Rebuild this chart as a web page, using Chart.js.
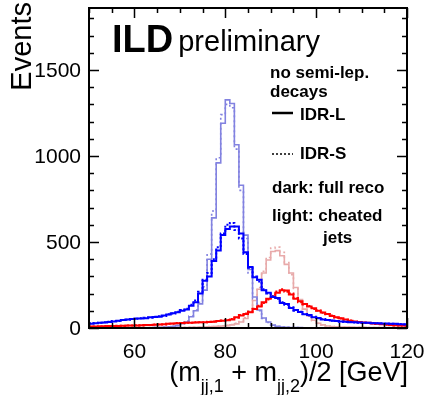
<!DOCTYPE html>
<html>
<head>
<meta charset="utf-8">
<script src="https://cdn.jsdelivr.net/npm/chart.js@4.4.1/dist/chart.umd.min.js"></script>
<style>
  html, body { margin: 0; padding: 0; background: #fff; overflow: hidden; }
  canvas { display: block; }
</style>
</head>
<body>
<canvas id="c" width="429" height="395"></canvas>
<script>
// Histogram binning: 1 GeV bins from 50 to 120 GeV
const BIN_START = 50;
const BIN_WIDTH = 1;

// Tick labels
const xTickLabels = [60, 80, 100, 120];
const yTickLabels = [0, 500, 1000, 1500];

// Legend / annotation text
const legendLines = ['no semi-lep.', 'decays'];
const styleLabels = ['IDR-L', 'IDR-S'];
const shadeLabels = ['dark: full reco', 'light: cheated', 'jets'];

// W-like peak, full reconstruction (dark blue)
const recoW_L = [
  25, 28, 30, 32, 35, 38, 42, 46, 50, 52,
  55, 55, 57, 62, 64, 66, 72, 78, 86, 92,
  100, 108, 130, 150, 200, 275, 300, 390, 450, 540,
  575, 590, 590, 550, 440, 355, 295, 280, 220, 205,
  180, 175, 145, 140, 116, 105, 93, 80, 75, 62,
  58, 50, 46, 44, 40, 38, 36, 34, 33, 32,
  30, 30, 28, 28, 26, 26, 25, 24, 22, 22
];
const recoW_S = [
  27, 29, 31, 33, 36, 40, 41, 47, 48, 53,
  54, 57, 59, 60, 66, 68, 70, 80, 84, 95,
  104, 112, 135, 160, 210, 280, 320, 400, 470, 550,
  600, 610, 570, 520, 430, 350, 300, 270, 225, 200,
  185, 170, 150, 135, 120, 100, 95, 82, 72, 65,
  56, 52, 47, 42, 41, 37, 35, 35, 32, 31,
  31, 29, 29, 27, 27, 25, 24, 23, 23, 21
];
// W-like peak, cheated jets (light blue)
const cheatW_L = [
  0, 0, 0, 0, 0, 0, 0, 0, 0, 0,
  0, 0, 1, 1, 2, 3, 4, 6, 9, 14,
  25, 35, 65, 100, 140, 220, 400, 640, 960, 1190,
  1326, 1305, 1065, 830, 540, 340, 180, 105, 58, 35,
  17, 10, 6, 4, 3, 2, 2, 1, 1, 1,
  1, 1, 1, 0, 0, 0, 0, 0, 0, 0,
  0, 0, 0, 0, 0, 0, 0, 0, 0, 0
];
const cheatW_S = [
  0, 0, 0, 0, 0, 0, 0, 0, 0, 0,
  0, 0, 1, 1, 2, 3, 5, 7, 10, 15,
  27, 40, 70, 105, 150, 240, 430, 680, 990, 1240,
  1300, 1280, 1040, 800, 520, 320, 170, 100, 55, 32,
  16, 9, 6, 4, 3, 2, 1, 1, 1, 1,
  1, 1, 0, 0, 0, 0, 0, 0, 0, 0,
  0, 0, 0, 0, 0, 0, 0, 0, 0, 0
];
// Z-like peak, full reconstruction (red)
const recoZ_L = [
  8, 9, 10, 10, 11, 12, 12, 13, 14, 15,
  15, 16, 17, 18, 19, 20, 22, 24, 26, 28,
  29, 30, 31, 32, 33, 34, 35, 37, 40, 42,
  45, 50, 62, 72, 82, 92, 110, 125, 150, 170,
  180, 205, 220, 218, 195, 170, 155, 140, 125, 115,
  100, 90, 82, 70, 62, 56, 50, 42, 38, 35,
  32, 30, 26, 24, 22, 20, 18, 16, 15, 14
];
const recoZ_S = [
  7, 8, 9, 11, 10, 11, 13, 12, 14, 14,
  16, 15, 18, 17, 20, 21, 21, 25, 25, 29,
  28, 31, 30, 33, 34, 33, 37, 38, 41, 44,
  47, 52, 60, 75, 85, 95, 112, 130, 145, 165,
  185, 212, 225, 210, 200, 175, 150, 137, 128, 110,
  102, 88, 80, 72, 60, 55, 48, 44, 37, 34,
  31, 29, 27, 23, 23, 19, 19, 15, 15, 13
];
// Z-like peak, cheated jets (pink)
const cheatZ_L = [
  2, 2, 2, 2, 2, 2, 2, 2, 2, 2,
  2, 2, 2, 3, 3, 3, 3, 3, 3, 3,
  3, 3, 4, 4, 5, 6, 7, 8, 10, 12,
  14, 18, 24, 35, 55, 95, 160, 225, 320, 395,
  445, 450, 420, 370, 320, 235, 165, 110, 70, 45,
  28, 18, 12, 9, 7, 6, 5, 5, 4, 4,
  4, 3, 3, 3, 3, 3, 2, 2, 2, 2
];
const cheatZ_S = [
  2, 2, 2, 2, 2, 2, 2, 2, 2, 2,
  2, 2, 3, 3, 3, 3, 3, 3, 3, 3,
  3, 4, 4, 5, 5, 6, 8, 9, 11, 13,
  15, 20, 27, 38, 60, 100, 165, 235, 330, 410,
  465, 470, 440, 380, 310, 230, 160, 105, 68, 42,
  27, 17, 12, 8, 7, 6, 5, 4, 4, 4,
  3, 3, 3, 3, 3, 2, 2, 2, 2, 2
];

const FONT = '"Liberation Sans", Arial, Helvetica, sans-serif';

// Turn bin contents into step points at the low bin edges, closing at the upper edge
function toSteps(values) {
  const pts = values.map((v, i) => ({ x: BIN_START + i * BIN_WIDTH, y: v }));
  pts.push({ x: BIN_START + values.length * BIN_WIDTH, y: values[values.length - 1] });
  return pts;
}

function hist(values, color, width, dash) {
  return {
    data: toSteps(values),
    borderColor: color,
    borderWidth: width,
    borderDash: dash || [],
    stepped: 'before',
    pointRadius: 0,
    fill: false,
    tension: 0
  };
}

const DARK_BLUE = '#0000ff';
const LIGHT_BLUE = '#8282e0';
const DARK_RED = '#ff0000';
const LIGHT_RED = '#e8aaaa';

// Frame, ticks, labels and annotation text, drawn ROOT style
const framePlugin = {
  id: 'rootFrame',
  afterDraw(chart) {
    const { ctx, chartArea: a, scales: { x, y } } = chart;
    ctx.save();
    ctx.strokeStyle = '#000';
    ctx.fillStyle = '#000';

    // ticks (inside the frame, on all four sides)
    ctx.lineWidth = 1.5;
    ctx.beginPath();
    for (let v = 0; v <= 1860; v += 100) {
      const py = Math.round(y.getPixelForValue(v)) + 0.5;
      const len = (v % 500 === 0) ? 10 : 5;
      ctx.moveTo(a.left, py); ctx.lineTo(a.left + len, py);
      ctx.moveTo(a.right, py); ctx.lineTo(a.right - len, py);
    }
    for (let v = 50; v <= 120; v += 5) {
      const px = Math.round(x.getPixelForValue(v)) + 0.5;
      const len = (v % 20 === 0) ? 10 : 5;
      ctx.moveTo(px, a.bottom); ctx.lineTo(px, a.bottom - len);
      ctx.moveTo(px, a.top); ctx.lineTo(px, a.top + len);
    }
    ctx.stroke();

    // frame
    ctx.lineWidth = 2;
    ctx.strokeRect(a.left, a.top, a.right - a.left, a.bottom - a.top);

    // y tick labels
    ctx.font = '21px ' + FONT;
    ctx.textAlign = 'right';
    ctx.textBaseline = 'middle';
    yTickLabels.forEach(v => ctx.fillText(String(v), 81, y.getPixelForValue(v) + 1));

    // x tick labels
    ctx.textAlign = 'center';
    ctx.textBaseline = 'alphabetic';
    xTickLabels.forEach(v => ctx.fillText(String(v), x.getPixelForValue(v), 358));

    // y axis title
    ctx.save();
    ctx.translate(31, 2);
    ctx.rotate(-Math.PI / 2);
    ctx.font = '29px ' + FONT;
    ctx.textAlign = 'right';
    ctx.fillText('Events', 0, 0);
    ctx.restore();

    // x axis title with subscripts, right aligned to the frame
    const parts = [
      ['(m', 27, 0], ['jj,1', 18, 11], [' + m', 27, 0], ['jj,2', 18, 11], [')/2 [GeV]', 27, 0]
    ];
    let total = 0;
    parts.forEach(p => { ctx.font = p[1] + 'px ' + FONT; total += ctx.measureText(p[0]).width; });
    let cx = a.right + 1 - total;
    ctx.textAlign = 'left';
    parts.forEach(p => {
      ctx.font = p[1] + 'px ' + FONT;
      ctx.fillText(p[0], cx, 381 + p[2]);
      cx += ctx.measureText(p[0]).width;
    });

    // experiment label
    ctx.font = 'bold 38px ' + FONT;
    ctx.fillText('ILD', 112, 52);
    const ildW = ctx.measureText('ILD').width;
    ctx.font = '29px ' + FONT;
    ctx.fillText('preliminary', 112 + ildW + 5, 51);

    // annotation block
    ctx.font = 'bold 17px ' + FONT;
    ctx.fillText(legendLines[0], 270, 78);
    ctx.fillText(legendLines[1], 270, 97);

    ctx.lineWidth = 2.5;
    ctx.beginPath();
    ctx.moveTo(272, 113); ctx.lineTo(293, 113);
    ctx.stroke();
    ctx.fillText(styleLabels[0], 300, 120);

    ctx.lineWidth = 1.5;
    ctx.setLineDash([2, 2]);
    ctx.beginPath();
    ctx.moveTo(272, 154); ctx.lineTo(293, 154);
    ctx.stroke();
    ctx.setLineDash([]);
    ctx.fillText(styleLabels[1], 300, 159);

    ctx.fillText(shadeLabels[0], 272, 193);
    ctx.fillText(shadeLabels[1], 272, 221);
    ctx.fillText(shadeLabels[2], 323, 243);

    ctx.restore();
  }
};

new Chart(document.getElementById('c'), {
  type: 'line',
  data: {
    datasets: [
      hist(recoW_L, DARK_BLUE, 2),
      hist(recoW_S, DARK_BLUE, 2, [2, 2]),
      hist(recoZ_L, DARK_RED, 2),
      hist(recoZ_S, DARK_RED, 2, [2, 2]),
      hist(cheatW_L, LIGHT_BLUE, 1.6),
      hist(cheatW_S, LIGHT_BLUE, 1.6, [2, 3]),
      hist(cheatZ_L, LIGHT_RED, 1.6),
      hist(cheatZ_S, LIGHT_RED, 1.6, [2, 3])
    ]
  },
  options: {
    responsive: false,
    animation: false,
    devicePixelRatio: 1,
    layout: { padding: { left: 89, right: 22, top: 8, bottom: 67 } },
    scales: {
      x: { type: 'linear', min: 50, max: 120, display: false },
      y: { type: 'linear', min: 0, max: 1860, display: false }
    },
    plugins: { legend: { display: false }, tooltip: { enabled: false } },
    events: []
  },
  plugins: [framePlugin]
});
</script>
</body>
</html>
